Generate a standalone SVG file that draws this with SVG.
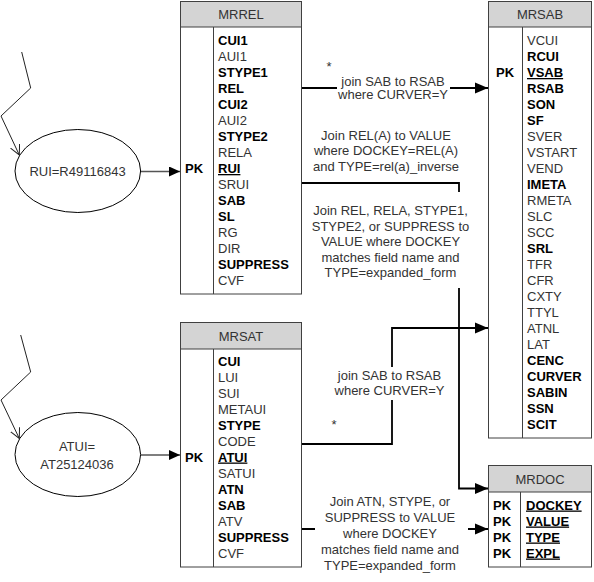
<svg xmlns="http://www.w3.org/2000/svg" width="594" height="582" viewBox="0 0 594 582">
<style>
text{font-family:"Liberation Sans",Arial,sans-serif;font-size:13px;fill:#333}
.b{font-weight:bold;fill:#000}
.u{text-decoration:underline}
.hd{fill:#d4d4d4;stroke:#404040;stroke-width:1}
.bx{fill:#fff;stroke:#404040;stroke-width:1}
.dv{stroke:#404040;stroke-width:1}
.lbl{text-anchor:middle}
.conn{fill:none;stroke:#000;stroke-width:1.8}
.ea{fill:none;stroke:#555;stroke-width:1.5}
.rec{fill:none;stroke:#222;stroke-width:1}
.el{fill:#fff;stroke:#000;stroke-width:1}
</style>
<defs>
<marker id="ah" markerUnits="userSpaceOnUse" markerWidth="14" markerHeight="12" refX="13" refY="6" orient="auto"><path d="M0,0.5 L13,6 L0,11.5 z" fill="#000"/></marker>
<marker id="ah2" markerUnits="userSpaceOnUse" markerWidth="12" markerHeight="11" refX="11" refY="5" orient="auto"><path d="M0,0 L11,5 L0,10 z" fill="#000"/></marker>
<marker id="op" markerUnits="userSpaceOnUse" markerWidth="12" markerHeight="12" refX="10" refY="5" orient="auto"><path d="M0,0 L10,5 L0,10" fill="none" stroke="#222" stroke-width="1"/></marker>
</defs>

<g id="connectors">
<path class="conn" d="M302,88 H337 M450,88 H488" marker-end="url(#ah)"/>
<path class="conn" d="M302,183 H459 V192 M459,288 V488.5 H488" marker-end="url(#ah)"/>
<path class="conn" d="M302,444 H392 V400 M392,367 V328 H488" marker-end="url(#ah)"/>
<path class="conn" d="M302,529 H315 M468,529 H488" marker-end="url(#ah)"/>
<path class="ea" d="M140.5,171.5 H180" marker-end="url(#ah2)"/>
<path class="ea" d="M140.5,455 H180" marker-end="url(#ah2)"/>
<path class="rec" d="M21.7,52 L30.7,88 L1,116 L19.3,155" marker-end="url(#op)"/>
<path class="rec" d="M20.7,335 L30.7,372 L1,400 L19.3,438.5" marker-end="url(#op)"/>
<text x="329" y="70.5" class="lbl">*</text>
<text class="lbl" x="393" y="85.5">join SAB to RSAB</text>
<text class="lbl" x="393" y="99">where CURVER=Y</text>
<text class="lbl" x="386" y="139.5">Join REL(A) to VALUE</text>
<text class="lbl" x="386" y="155">where DOCKEY=REL(A)</text>
<text class="lbl" x="386" y="170.5">and TYPE=rel(a)_inverse</text>
<text class="lbl" x="390.5" y="215">Join REL, RELA, STYPE1,</text>
<text class="lbl" x="390.5" y="230.5">STYPE2, or SUPPRESS to</text>
<text class="lbl" x="390.5" y="246">VALUE where DOCKEY</text>
<text class="lbl" x="390.5" y="261.5">matches field name and</text>
<text class="lbl" x="390.5" y="277">TYPE=expanded_form</text>
<text class="lbl" x="389.5" y="380">join SAB to RSAB</text>
<text class="lbl" x="389.5" y="395">where CURVER=Y</text>
<text x="334" y="428.5" class="lbl">*</text>
<text class="lbl" x="390" y="506">Join ATN, STYPE, or</text>
<text class="lbl" x="390" y="522">SUPPRESS to VALUE</text>
<text class="lbl" x="390" y="538">where DOCKEY</text>
<text class="lbl" x="390" y="553.5">matches field name and</text>
<text class="lbl" x="390" y="569.5">TYPE=expanded_form</text>
</g>

<g id="rui">
<ellipse class="el" cx="77.8" cy="171" rx="62.8" ry="41.5"/>
<text class="lbl" x="77.5" y="176.3">RUI=R49116843</text>
</g>

<g id="atui">
<ellipse class="el" cx="77.8" cy="454.5" rx="62.8" ry="42"/>
<text class="lbl" x="77" y="450.7">ATUI=</text>
<text class="lbl" x="77" y="468.7">AT25124036</text>
</g>

<g id="mrrel">
<rect class="bx" x="180.5" y="1.5" width="121" height="292.5"/>
<rect class="hd" x="180.5" y="1.5" width="121" height="25.5"/>
<line class="dv" x1="213.5" y1="27" x2="213.5" y2="294"/>
<text class="lbl" x="241" y="19">MRREL</text>
<text x="185" y="173" class="b">PK</text>
<text x="218" y="45" class="b">CUI1</text>
<text x="218" y="61">AUI1</text>
<text x="218" y="77" class="b">STYPE1</text>
<text x="218" y="93" class="b">REL</text>
<text x="218" y="109" class="b">CUI2</text>
<text x="218" y="125">AUI2</text>
<text x="218" y="141" class="b">STYPE2</text>
<text x="218" y="157">RELA</text>
<text x="218" y="173" class="b u">RUI</text>
<text x="218" y="189">SRUI</text>
<text x="218" y="205" class="b">SAB</text>
<text x="218" y="221" class="b">SL</text>
<text x="218" y="237">RG</text>
<text x="218" y="253">DIR</text>
<text x="218" y="269" class="b">SUPPRESS</text>
<text x="218" y="285">CVF</text>
</g>

<g id="mrsab">
<rect class="bx" x="488.5" y="1.5" width="103" height="436.5"/>
<rect class="hd" x="488.5" y="1.5" width="103" height="25.5"/>
<line class="dv" x1="522.5" y1="27" x2="522.5" y2="438"/>
<text class="lbl" x="540" y="19">MRSAB</text>
<text x="496" y="77" class="b">PK</text>
<text x="527" y="45">VCUI</text>
<text x="527" y="61" class="b">RCUI</text>
<text x="527" y="77" class="b u">VSAB</text>
<text x="527" y="93" class="b">RSAB</text>
<text x="527" y="109" class="b">SON</text>
<text x="527" y="125" class="b">SF</text>
<text x="527" y="141">SVER</text>
<text x="527" y="157">VSTART</text>
<text x="527" y="173">VEND</text>
<text x="527" y="189" class="b">IMETA</text>
<text x="527" y="205">RMETA</text>
<text x="527" y="221">SLC</text>
<text x="527" y="237">SCC</text>
<text x="527" y="253" class="b">SRL</text>
<text x="527" y="269">TFR</text>
<text x="527" y="285">CFR</text>
<text x="527" y="301">CXTY</text>
<text x="527" y="317">TTYL</text>
<text x="527" y="333">ATNL</text>
<text x="527" y="349">LAT</text>
<text x="527" y="365" class="b">CENC</text>
<text x="527" y="381" class="b">CURVER</text>
<text x="527" y="397" class="b">SABIN</text>
<text x="527" y="413" class="b">SSN</text>
<text x="527" y="429" class="b">SCIT</text>
</g>

<g id="mrsat">
<rect class="bx" x="180.5" y="322.5" width="121" height="244.5"/>
<rect class="hd" x="180.5" y="322.5" width="121" height="26.5"/>
<line class="dv" x1="213.5" y1="349" x2="213.5" y2="567"/>
<text class="lbl" x="241" y="340.5">MRSAT</text>
<text x="185" y="461.5" class="b">PK</text>
<text x="218" y="365.5" class="b">CUI</text>
<text x="218" y="381.5">LUI</text>
<text x="218" y="397.5">SUI</text>
<text x="218" y="413.5">METAUI</text>
<text x="218" y="429.5" class="b">STYPE</text>
<text x="218" y="445.5">CODE</text>
<text x="218" y="461.5" class="b u">ATUI</text>
<text x="218" y="477.5">SATUI</text>
<text x="218" y="493.5" class="b">ATN</text>
<text x="218" y="509.5" class="b">SAB</text>
<text x="218" y="525.5">ATV</text>
<text x="218" y="541.5" class="b">SUPPRESS</text>
<text x="218" y="557.5">CVF</text>
</g>

<g id="mrdoc">
<rect class="bx" x="488.5" y="465.5" width="103" height="101.5"/>
<rect class="hd" x="488.5" y="465.5" width="103" height="26.5"/>
<line class="dv" x1="520.5" y1="492" x2="520.5" y2="567"/>
<text class="lbl" x="540" y="483.5">MRDOC</text>
<text x="493" y="509.5" class="b">PK</text>
<text x="493" y="525.5" class="b">PK</text>
<text x="493" y="541.5" class="b">PK</text>
<text x="493" y="557.5" class="b">PK</text>
<text x="526" y="509.5" class="b u">DOCKEY</text>
<text x="526" y="525.5" class="b u">VALUE</text>
<text x="526" y="541.5" class="b u">TYPE</text>
<text x="526" y="557.5" class="b u">EXPL</text>
</g>
</svg>
